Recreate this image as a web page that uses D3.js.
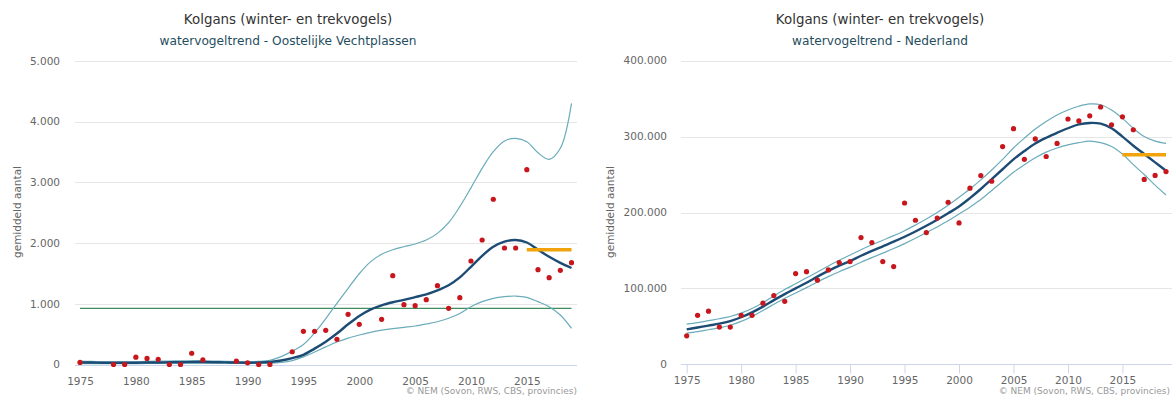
<!DOCTYPE html>
<html><head><meta charset="utf-8">
<script src="https://cdn.jsdelivr.net/npm/d3@7"></script>
<style>
html,body{margin:0;padding:0;background:#fff;}
svg{display:block;font-family:"DejaVu Sans",Verdana,sans-serif;}
</style></head>
<body><svg id="c" width="1172" height="396"></svg>
<script>
// ---------- DATA ----------
const years = d3.range(1975, 2020);
const xTicks = [1975,1980,1985,1990,1995,2000,2005,2010,2015];

const titleText = "Kolgans (winter- en trekvogels)";
const subLeft = "watervogeltrend - Oostelijke Vechtplassen";
const subRight = "watervogeltrend - Nederland";
const yAxisTitle = "gemiddeld aantal";
const creditText = "© NEM (Sovon, RWS, CBS, provincies)";

const leftYTicks = [0,1000,2000,3000,4000,5000];
const leftCounts = [35,null,null,0,0,120,100,85,0,0,185,75,null,null,55,27,0,0,null,210,
  547,547,563,415,827,662,null,745,1463,985,969,1068,1298,926,1101,1705,2051,2722,1919,1919,
  3210,1562,1430,1552,1677];
const leftTrend = [35,33,30,28,28,30,32,34,36,38,40,40,38,35,32,30,32,42,65,105,
  160,262,376,510,662,800,905,975,1025,1065,1110,1155,1220,1305,1435,1610,1790,1940,2025,2050,
  2010,1890,1775,1675,1590];
const leftUpper = [55,50,45,42,42,45,50,55,58,60,62,62,58,52,48,45,50,70,130,220,
  330,520,755,1008,1255,1495,1690,1815,1890,1940,1985,2050,2160,2336,2600,2910,3232,3506,3682,3726,
  3671,3489,3380,3562,4303];
const leftLower = [15,15,14,13,13,15,17,19,21,23,24,24,23,21,19,18,18,22,35,65,
  125,205,290,370,435,486,530,565,590,612,634,667,705,761,840,952,1035,1090,1117,1128,
  1107,1035,952,815,596];
const leftBaseline = 925;      // green horizontal line
const leftRecent = 1890;       // orange, 2015-2019

const rightYTicks = [0,100000,200000,300000,400000];
const rightCounts = [37500,64500,70000,49000,49000,64500,64500,80500,90600,83000,119500,122000,110800,124400,134000,135400,167000,160400,135400,128800,
  212500,189800,173600,192700,213500,186300,232000,248700,241200,286800,310500,270000,297000,273800,291000,323200,320600,327400,339000,315600,
  326100,309000,243600,248800,253900];
const rightTrend = [46000,48500,51000,53500,57000,62000,68500,76000,84500,92500,100000,107500,115500,123000,130000,136000,143000,149500,155500,161500,
  168000,175000,182500,190500,199000,208000,219000,231000,244000,257000,270000,281000,291000,298500,305000,311000,316000,318000,317000,311000,
  300000,288000,277000,266000,255000];
const rightUpper = [53000,55000,57500,60000,63000,67500,73500,81000,90000,98500,106000,114000,121500,129500,137000,144000,151000,157500,163500,169500,
  176000,183500,191500,200000,209500,220000,231000,243000,256000,270000,285000,298000,310000,320000,328500,335000,340000,343000,342000,335000,
  324000,311000,300000,294000,291000];
const rightLower = [41000,43000,45500,48000,51500,56500,63000,71000,79000,87000,94000,101000,108500,115500,122000,128000,134500,140500,146500,152500,
  159000,166000,173500,181000,189000,198000,207000,217000,229000,241000,253000,263000,272000,279500,285000,289000,292000,294000,292000,287000,
  277000,263000,250000,236000,223000];
const rightRecent = 276000;
const recentYears = [2015, 2019];

// ---------- DRAW ----------
const svg = d3.select("#c");
const loc = d3.formatLocale({decimal:",", thousands:".", grouping:[3], currency:["",""]});
const fmt = loc.format(",");

function drawChart(o) {
  const g = svg.append("g");
  const x = d3.scaleLinear().domain([1975, 2019]).range(o.xRange);
  const y = d3.scaleLinear().domain([0, o.yMax]).range(o.yRange);

  // titles
  g.append("text").attr("x", o.center).attr("y", 24).attr("text-anchor","middle")
    .attr("fill","#333").style("font-size","13.4px").text(titleText);
  g.append("text").attr("x", o.center).attr("y", 45).attr("text-anchor","middle")
    .attr("fill","#1f4e60").style("font-size","12.2px").text(o.subtitle);

  // grid
  g.append("g").selectAll("line").data(o.yTicks.filter(d => d > 0)).join("line")
    .attr("x1", o.plot[0]).attr("x2", o.plot[1])
    .attr("y1", d => Math.round(y(d)) + 0.5).attr("y2", d => Math.round(y(d)) + 0.5)
    .attr("stroke", "#e6e6e6").attr("stroke-width", 1);

  // y labels
  g.append("g").selectAll("text").data(o.yTicks).join("text")
    .attr("x", o.yLabelX).attr("y", d => y(d)).attr("dy","0.36em")
    .attr("text-anchor","end").attr("fill","#666").style("font-size","10.5px")
    .text(d => fmt(d));

  // y axis title
  g.append("text").attr("transform", `translate(${o.yTitleX},212) rotate(-90)`)
    .attr("text-anchor","middle").attr("fill","#666").style("font-size","10.5px")
    .text(yAxisTitle);

  // x axis
  const xAxis = d3.axisBottom(x).tickValues(xTicks).tickFormat(d3.format("d"))
    .tickSize(o.tickLen).tickPadding(o.tickLen ? 3 : 12);
  const ax = g.append("g").attr("transform", `translate(0,${Math.round(y(0)) + 0.5})`).call(xAxis);
  ax.select(".domain").remove();
  ax.selectAll(".tick line").attr("stroke","#ccd6eb");
  ax.selectAll(".tick text").attr("fill","#666").style("font-size","10.5px")
    .style("font-family","DejaVu Sans, Verdana, sans-serif");
  g.append("line").attr("x1", o.plot[0]).attr("x2", o.plot[1])
    .attr("y1", Math.round(y(0)) + 0.5).attr("y2", Math.round(y(0)) + 0.5)
    .attr("stroke","#ccd6eb");

  // baseline (green)
  if (o.baseline != null) {
    g.append("line").attr("x1", x(1975)).attr("x2", x(2019))
      .attr("y1", y(o.baseline)).attr("y2", y(o.baseline))
      .attr("stroke","#3f8d5c").attr("stroke-width",1.4);
  }

  const line = vals => d3.line().x((d,i) => x(years[i])).y(d => y(d))
    .curve(d3.curveCatmullRom.alpha(0.5))(vals);

  g.append("path").attr("d", line(o.upper)).attr("fill","none")
    .attr("stroke","#6aacba").attr("stroke-width",1.2);
  g.append("path").attr("d", line(o.lower)).attr("fill","none")
    .attr("stroke","#6aacba").attr("stroke-width",1.2);
  g.append("path").attr("d", line(o.trend)).attr("fill","none")
    .attr("stroke","#1c4b74").attr("stroke-width",2.4);

  // recent level (orange)
  g.append("line").attr("x1", x(recentYears[0])).attr("x2", x(recentYears[1]))
    .attr("y1", y(o.recent)).attr("y2", y(o.recent))
    .attr("stroke","#f0a30a").attr("stroke-width",3.6);

  // dots
  const pts = years.map((yr,i) => ({yr, v:o.counts[i]})).filter(d => d.v != null);
  g.append("g").selectAll("circle").data(pts).join("circle")
    .attr("cx", d => x(d.yr)).attr("cy", d => y(d.v)).attr("r", 2.6)
    .attr("fill","#c8161d");

  // credits
  g.append("text").attr("x", o.creditX).attr("y", 394).attr("text-anchor","end")
    .attr("fill","#999").style("font-size","9px").text(creditText);
}

drawChart({
  subtitle: subLeft, center: 288, xRange: [80, 571.5], yRange: [364.5, 61], yMax: 5000,
  plot: [75, 577], yTicks: leftYTicks, yLabelX: 60, yTitleX: 21, tickLen: 0,
  counts: leftCounts, trend: leftTrend, upper: leftUpper, lower: leftLower,
  baseline: leftBaseline, recent: leftRecent, creditX: 577
});
drawChart({
  subtitle: subRight, center: 880, xRange: [686.7, 1166], yRange: [364.3, 60.7], yMax: 400000,
  plot: [681, 1172], yTicks: rightYTicks, yLabelX: 667, yTitleX: 614, tickLen: 9,
  counts: rightCounts, trend: rightTrend, upper: rightUpper, lower: rightLower,
  baseline: null, recent: rightRecent, creditX: 1170
});
</script></body></html>
